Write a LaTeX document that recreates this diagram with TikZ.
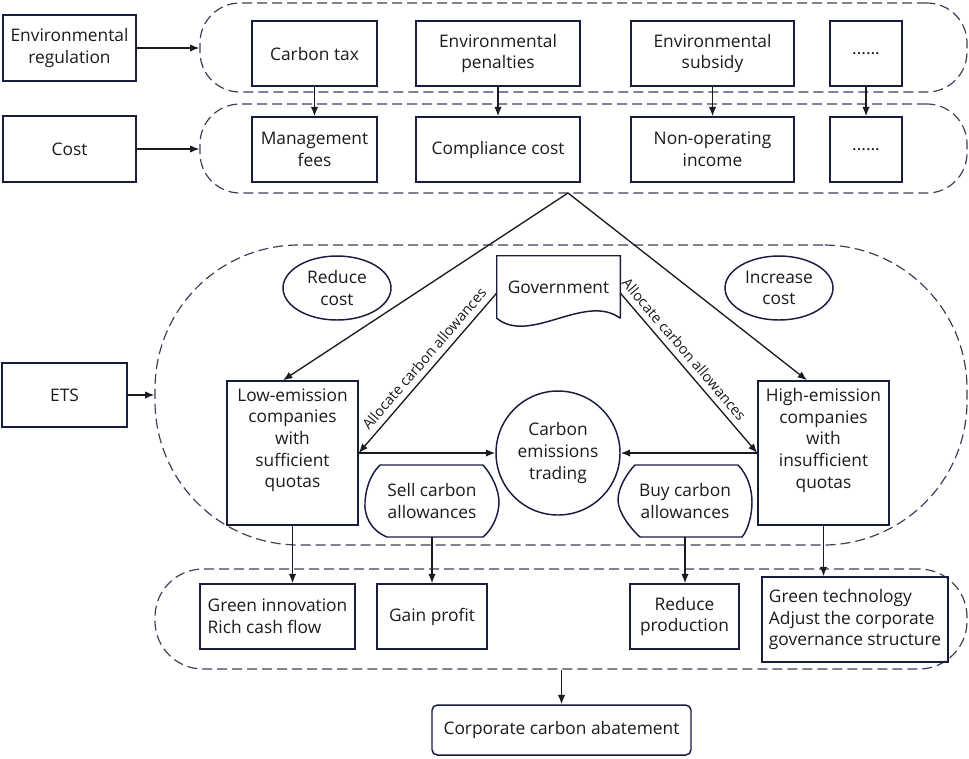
\documentclass[tikz,border=0pt]{standalone}
\usepackage{fontspec}
\setmainfont{Open Sans}
\usepackage{tikz}
\usetikzlibrary{arrows.meta,shapes.geometric}
\definecolor{navy}{RGB}{24,28,64}
\definecolor{ink}{RGB}{26,26,32}
\definecolor{dashgray}{RGB}{60,64,90}

\begin{document}
\begin{tikzpicture}[x=0.75pt, y=-0.75pt, node distance = 72pt,
    every node/.style={text=ink, font=\fontsize{13}{16.25}\selectfont},
    box/.style={draw=navy, line width=1.1pt, align=center, inner sep=2pt, minimum height=48.75pt},
    zone/.style={draw=dashgray, dash pattern=on 7.5pt off 3.75pt, line width=0.9pt},
    blob/.style={draw=navy, line width=1.1pt, ellipse, align=center, inner sep=0pt, minimum width=81pt, minimum height=48pt},
    bare/.style={inner sep=0pt, align=center},
    lbl/.style={sloped, above=1pt, font=\fontsize{10.8}{12}\selectfont},
    link/.style={-{Latex[length=7pt,width=5.5pt]}, line width=1pt, draw=ink}]
            \useasboundingbox (0,0) rectangle (969,758);
            % dashed groups
            \node[zone, rounded corners=30pt, minimum width=575.25pt, minimum height=66.75pt] (envzone) at (583.5,47.5) {};
            \node[zone, rounded corners=30pt, minimum width=575.25pt, minimum height=66.75pt] (costzone) at (583.5,148.5) {};
            \node[zone, rounded corners=108pt, minimum width=609pt, minimum height=225pt] (etszone) at (561,395) {};
            \node[zone, rounded corners=36pt, minimum width=609pt, minimum height=75pt] (effzone) at (561,619) {};
            % left column
            \node[box, minimum width=99.75pt, minimum height=49.5pt] (envreg) at (69.5,48) {Environmental\\regulation};
            \node[box, minimum width=99.75pt, minimum height=49.5pt] (cost) at (69.5,149) {Cost};
            \node[box, minimum width=93.75pt, minimum height=48pt] (ets) at (64.5,395) {ETS};
            % regulation and cost rows
            \node[box, minimum width=93.75pt] (tax) at (314.5,53.5) {Carbon tax};
            \node[box, minimum width=123pt] (pen) at (498,53.5) {Environmental\\penalties};
            \node[box, minimum width=122.25pt] (sub) at (712.5,53.5) {Environmental\\subsidy};
            \node[box, minimum width=54pt] (dots1) at (866,53.5) {......};
            \node[box, minimum width=93.75pt] (fees) [below of=tax] {Management\\fees};
            \node[box, minimum width=123pt] (comp) [below of=pen] {Compliance cost};
            \node[box, minimum width=122.25pt] (income) [below of=sub] {Non-operating\\income};
            \node[box, minimum width=54pt] (dots2) [below of=dots1] {......};
            % ETS
            \node[blob] (less) at (337,288) {Reduce\\cost};
            \node[blob] (more) at (779,288) {Increase\\cost};
            \node[bare, minimum width=92.25pt, minimum height=46.5pt] (gov) at (558.5,287) {Government};
            \draw[navy, line width=1.1pt] (gov.south east) -- (gov.north east) -- (gov.north west) -- (gov.south west)
                .. controls +(33,27) and +(-35,-26) .. (gov.south east);
            \node[draw=navy, line width=1.1pt, circle, minimum size=93pt, bare] (cet) at (558,453) {Carbon\\emissions\\trading};
            \node[box, minimum width=98.25pt, minimum height=108pt] (low) at (292.5,453) {Low-emission\\companies\\with\\sufficient\\quotas\\[6pt]};
            \node[box, minimum width=98.25pt, minimum height=108pt] (high) at (823.5,453) {High-emission\\companies\\with\\insufficient\\quotas\\[6pt]};
            \node[bare, minimum width=100.5pt, minimum height=54pt] (sell) at (432,501) {Sell carbon\\allowances};
            \draw[navy, line width=1.1pt] (380,465) -- (483,465) .. controls (492,475) and (499,490) .. (499,502)
                .. controls (499,515) and (492,530) .. (483,537) -- (387,537) .. controls (370,530) and (364,515) .. (365,502)
                .. controls (366,488) and (370,475) .. (380,465) -- cycle;
            \node[bare, minimum width=100.5pt, minimum height=54pt] (buy) at (685,501) {Buy carbon\\allowances};
            \draw[navy, line width=1.1pt] (635,465) -- (738,465) .. controls (748,475) and (752,490) .. (752,502)
                .. controls (752,515) and (748,530) .. (742,537) -- (640,537) .. controls (630,528) and (618,512) .. (618,500)
                .. controls (618,488) and (627,473) .. (635,465) -- cycle;
            % effects
            \node[box, align=left, minimum width=116.25pt] (green) at (277.5,616.5) {Green innovation\\Rich cash flow};
            \node[box, minimum width=82.5pt] (gain) at (432,616.5) {Gain profit};
            \node[box, minimum width=81.75pt] (prod) at (684.5,616.5) {Reduce\\production};
            \node[box, align=left, minimum width=139.5pt, minimum height=63.75pt] (tech) at (855,619.5) {Green technology\\Adjust the corporate\\governance structure};
            \node[box, rounded corners=4pt, minimum width=194.25pt, minimum height=37.5pt] (abate) at (561.5,730) {Corporate carbon abatement};
            % arrows
            \draw[link] (envreg.east) -- (envreg.east -| envzone.west);
            \draw[link] (cost.east) -- (cost.east -| costzone.west);
            \draw[link] (ets.east) -- (ets.east -| etszone.west);
            \draw[link] (tax)--(fees);
            \draw[link] (pen)--(comp);
            \draw[link] (sub)--(income);
            \draw[link] (dots1)--(dots2);
            \coordinate (apex) at (568,193);
            \draw[link] (apex) -- (283,0 |- low.north);
            \draw[link] (apex) -- (807,0 |- high.north);
            \draw[link] ([yshift=-4.5pt]gov.west) -- node[lbl, pos=0.46] {Allocate carbon allowances} (low.east);
            \draw[link] ([yshift=-4.5pt]gov.east) -- node[lbl, pos=0.4] {Allocate carbon allowances} (high.west);
            \draw[link] (low)--(cet);
            \draw[link] (high)--(cet);
            \draw[link] (low.south) -- (low.south |- green.north);
            \draw[link] (sell)--(gain);
            \draw[link] (buy.south) -- (buy.south |- prod.north);
            \draw[link] (high.south) -- (high.south |- tech.north);
            \draw[link] (effzone.south -| abate) -- (abate.north);
        \end{tikzpicture}
\end{document}
